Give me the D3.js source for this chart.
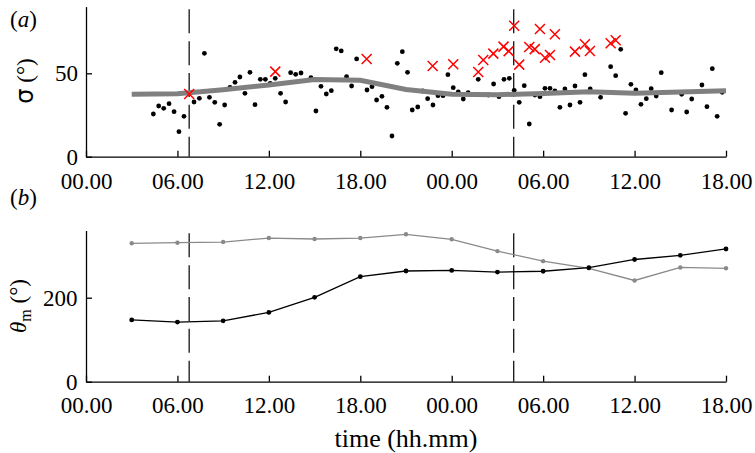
<!DOCTYPE html>
<html>
<head>
<meta charset="utf-8">
<script src="https://cdn.jsdelivr.net/npm/d3@7"></script>
<style>
body { margin: 0; background: #fff; }
svg { font-family: "Liberation Serif", "Times New Roman", serif; }
.axis path, .axis line { stroke: #000; stroke-width: 1.3; }
.axis text { font-size: 23px; fill: #000; font-family: "Liberation Serif", serif; }
</style>
</head>
<body>
<svg width="755" height="453"></svg>
<script>
// **** Data (hours since 00.00 of day 1) ****

var tickHours = [0, 6, 12, 18, 24, 30, 36, 42];
var tickLabels = ["00.00", "06.00", "12.00", "18.00", "00.00", "06.00", "12.00", "18.00"];
var dashHours = [6.77, 28.07];

var dotHours = [4.42, 4.77, 5.10, 5.45, 5.78, 6.10, 6.43, 7.09, 7.44, 7.77, 8.10, 8.45, 8.77, 9.10, 9.45, 9.78,
    10.10, 10.43, 10.76, 11.09, 11.44, 11.77, 12.09, 12.42, 12.77, 13.10, 13.43, 13.76, 14.11, 14.76, 15.09,
    15.42, 15.77, 16.10, 16.42, 16.75, 17.10, 17.43, 17.76, 18.44, 18.77, 19.07, 19.42, 19.75, 20.08, 20.43,
    20.76, 21.10, 21.41, 21.77, 22.10, 22.42, 22.77, 23.10, 23.43, 23.75, 24.10, 24.43, 24.76, 25.08, 25.74,
    26.40, 26.75, 27.10, 27.43, 27.78, 28.10, 28.43, 28.76, 29.09, 29.46, 29.79, 30.12, 30.45, 30.77, 31.10,
    31.43, 31.76, 32.09, 32.42, 32.74, 33.09, 33.77, 34.43, 34.76, 35.09, 35.41, 35.76, 36.09, 36.42, 36.77,
    37.09, 37.42, 37.75, 38.43, 39.09, 39.42, 39.75, 40.42, 40.75, 41.10, 41.42, 41.75];
var dotSigma = [25.6, 30.4, 29.0, 31.8, 27.0, 15.0, 24.2, 32.8, 35.0, 62.0, 35.6, 32.6, 19.4, 31.0, 41.6, 44.6,
    47.8, 38.0, 50.6, 31.2, 46.4, 46.4, 44.0, 47.0, 38.0, 32.8, 50.4, 49.4, 50.2, 47.4, 27.4,
    42.2, 37.6, 39.6, 64.7, 63.4, 48.0, 42.4, 58.6, 40.0, 42.0, 34.0, 36.2, 29.6, 12.4, 56.0,
    63.0, 50.6, 28.0, 29.8, 39.4, 34.8, 31.0, 36.6, 36.6, 49.2, 41.4, 38.8, 34.6, 38.4, 46.4,
    37.0, 43.6, 36.0, 46.4, 47.0, 39.8, 32.6, 42.6, 19.6, 37.0, 36.0, 41.0, 41.0, 39.4, 29.6,
    40.6, 31.0, 42.4, 32.6, 49.2, 40.6, 35.6, 54.0, 48.6, 64.4, 26.0, 43.4, 40.0, 31.4, 34.8,
    40.8, 36.4, 50.4, 28.0, 37.4, 26.8, 34.6, 43.0, 30.0, 52.8, 24.2, 38.6];

var crossHours = [6.77, 12.42, 18.42, 22.75, 24.10, 25.74, 26.07, 26.73, 27.40, 27.74, 28.10, 28.43,
    29.09, 29.45, 29.79, 30.12, 30.45, 30.77, 32.09, 32.74, 33.07, 34.43, 34.76];
var crossSigma = [37.6, 51.0, 58.6, 54.4, 55.4, 50.8, 58.0, 61.8, 66.0, 63.3, 78.5, 55.2,
    65.8, 64.5, 76.6, 59.3, 61.0, 73.4, 63.0, 67.4, 63.4, 68.0, 69.8];

var meanHours = [3, 6, 9, 12, 15, 18, 21, 24, 27, 30, 33, 36, 39, 42];
var meanSigma = [37.4, 37.8, 40.2, 43.0, 46.3, 45.8, 40.3, 37.4, 37.2, 37.9, 39.0, 38.1, 38.8, 39.6];

var thetaHours = [3, 6, 9, 12, 15, 18, 21, 24, 27, 30, 33, 36, 39, 42];
var thetaGrey = [329.5, 331, 332.5, 342, 339.8, 342, 351, 339, 311, 287, 270, 241, 272, 270];
var thetaBlack = [147, 142, 145, 165, 201, 250, 263.6, 265, 261, 263, 271.5, 291, 301, 316];

// **** Scales ****

var svg = d3.select("svg");

var x = d3.scaleLinear().domain([0, 42]).range([86, 726]);
var ySig = d3.scaleLinear().domain([0, 90]).range([156.7, 6.6]);
var yTh = d3.scaleLinear().domain([0, 360]).range([381.7, 230.5]);

function xAxis(g, pad) {
    g.call(d3.axisBottom(x).tickValues(tickHours)
        .tickFormat((d, i) => tickLabels[i])
        .tickSize(-6).tickSizeOuter(0).tickPadding(pad));
}

// **** Panel (a) ****

svg.append("g").attr("class", "axis")
    .attr("transform", "translate(0,156.7)")
    .call(g => xAxis(g, 15.5));

svg.append("g").attr("class", "axis")
    .attr("transform", "translate(86,0)")
    .call(d3.axisLeft(ySig).tickValues([0, 50]).tickSize(-6).tickSizeOuter(0).tickPadding(8));

svg.selectAll(".dashA").data(dashHours).enter().append("line")
    .attr("x1", d => x(d)).attr("x2", d => x(d))
    .attr("y1", 9.3).attr("y2", 156.7)
    .attr("stroke", "#000").attr("stroke-width", 1.2)
    .attr("stroke-dasharray", "24,7.85");

svg.selectAll(".dot").data(dotHours).enter().append("circle")
    .attr("cx", d => x(d))
    .attr("cy", (d, i) => ySig(dotSigma[i]))
    .attr("r", 2.4)
    .attr("fill", "#000");

svg.append("path")
    .datum(meanHours)
    .attr("fill", "none")
    .attr("stroke", "#808080")
    .attr("stroke-width", 5)
    .attr("d", d3.line().x(d => x(d)).y((d, i) => ySig(meanSigma[i])));

svg.selectAll(".cross").data(crossHours).enter().append("path")
    .attr("transform", (d, i) => `translate(${x(d)},${ySig(crossSigma[i])})`)
    .attr("d", "M-5,-5L5,5M-5,5L5,-5")
    .attr("stroke", "#ff0000")
    .attr("stroke-width", 1.5)
    .attr("fill", "none");

svg.append("text")
    .attr("x", 10).attr("y", 27)
    .style("font-size", "23px")
    .html('(<tspan font-style="italic">a</tspan>)');

svg.append("text")
    .attr("transform", "translate(33,81) rotate(-90)")
    .attr("text-anchor", "middle")
    .style("font-size", "23px")
    .html('<tspan font-family="DejaVu Sans" font-size="24px">σ</tspan> (°)');

// **** Panel (b) ****

svg.append("g").attr("class", "axis")
    .attr("transform", "translate(0,381.7)")
    .call(g => xAxis(g, 15));

svg.append("g").attr("class", "axis")
    .attr("transform", "translate(86,0)")
    .call(d3.axisLeft(yTh).tickValues([0, 200]).tickSize(-6).tickSizeOuter(0).tickPadding(8.5));

svg.selectAll(".dashB").data(dashHours).enter().append("line")
    .attr("x1", d => x(d)).attr("x2", d => x(d))
    .attr("y1", 233.3).attr("y2", 381.7)
    .attr("stroke", "#000").attr("stroke-width", 1.2)
    .attr("stroke-dasharray", "24,7.85");

var thLine = d3.line().x(d => x(d[0])).y(d => yTh(d[1]));
var greyPts = thetaHours.map((h, i) => [h, thetaGrey[i]]);
var blackPts = thetaHours.map((h, i) => [h, thetaBlack[i]]);

svg.append("path").datum(greyPts)
    .attr("fill", "none").attr("stroke", "#8a8a8a").attr("stroke-width", 1.3)
    .attr("d", thLine);
svg.selectAll(".gdot").data(greyPts).enter().append("circle")
    .attr("cx", d => x(d[0])).attr("cy", d => yTh(d[1]))
    .attr("r", 2.2).attr("fill", "#8a8a8a");

svg.append("path").datum(blackPts)
    .attr("fill", "none").attr("stroke", "#000").attr("stroke-width", 1.3)
    .attr("d", thLine);
svg.selectAll(".bdot").data(blackPts).enter().append("circle")
    .attr("cx", d => x(d[0])).attr("cy", d => yTh(d[1]))
    .attr("r", 2.4).attr("fill", "#000");

svg.append("text")
    .attr("x", 10).attr("y", 205)
    .style("font-size", "23px")
    .html('(<tspan font-style="italic">b</tspan>)');

svg.append("text")
    .attr("transform", "translate(26,306) rotate(-90)")
    .attr("text-anchor", "middle")
    .style("font-size", "23px")
    .html('<tspan font-style="italic">θ</tspan><tspan font-size="16px" dy="5">m</tspan><tspan dy="-5"> (°)</tspan>');

svg.append("text")
    .attr("x", 406).attr("y", 447)
    .attr("text-anchor", "middle")
    .style("font-size", "26px")
    .text("time (hh.mm)");
</script>
</body>
</html>
